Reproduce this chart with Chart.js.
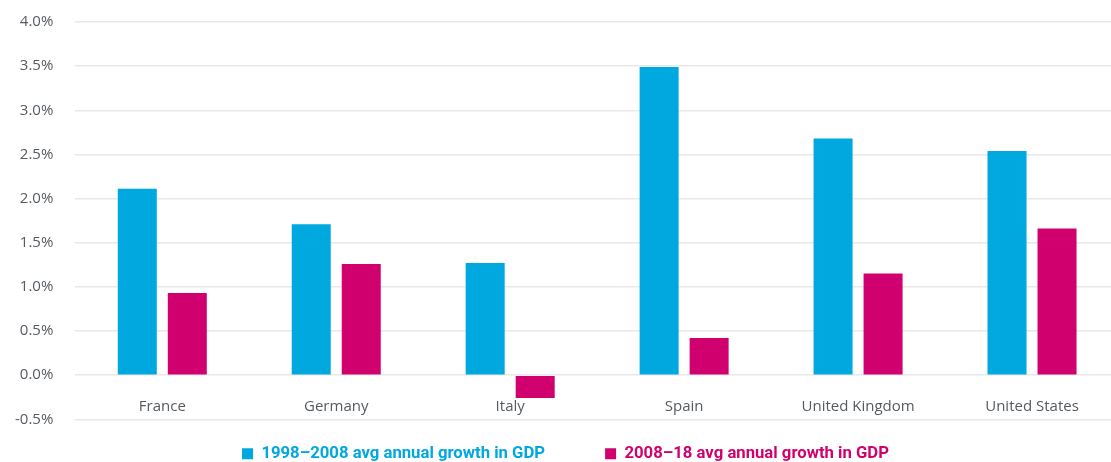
<!DOCTYPE html>
<html>
<head>
<meta charset="utf-8">
<script src="https://cdn.jsdelivr.net/npm/chart.js@4"></script>
<style>
  html, body { margin: 0; padding: 0; background: #fff; }
  #wrap { width: 1111px; height: 462px; }
</style>
</head>
<body>
<div id="wrap"><canvas id="gdpChart"></canvas></div>
<script>
// GDP growth by country, two decades
const countries = ["France", "Germany", "Italy", "Spain", "United Kingdom", "United States"];
const growth9808 = [2.11, 1.71, 1.27, 3.49, 2.68, 2.54];
const growth0818 = [0.93, 1.26, -0.26, 0.42, 1.15, 1.66];
const seriesNames = ["1998\u20132008 avg annual growth in GDP", "2008\u201318 avg annual growth in GDP"];
const yTicks = [-0.5, 0, 0.5, 1, 1.5, 2, 2.5, 3, 3.5, 4];

const cyan = "#00a8e0";
const magenta = "#d1006f";

// plot runs a bit past the right edge of the canvas; legend sits slightly right of centre
const layoutTweak = {
    id: "layoutTweak",
    afterLayout(chart) {
        const extra = 8;
        const x = chart.scales.x;
        x.right += extra;
        x.width += extra;
        x.configure();
        chart.chartArea.right += extra;
        chart.chartArea.width += extra;
        if (chart.legend) {
            chart.legend.left += 10;
            chart.legend.right += 10;
        }
    }
};

const ctx = document.getElementById("gdpChart").getContext("2d");

new Chart(ctx, {
    type: "bar",
    data: {
        labels: countries,
        datasets: [
            { label: seriesNames[0], data: growth9808, backgroundColor: cyan },
            { label: seriesNames[1], data: growth0818, backgroundColor: magenta }
        ]
    },
    plugins: [layoutTweak],
    options: {
        responsive: true,
        maintainAspectRatio: false,
        animation: false,
        layout: { padding: { top: 22, right: 0, left: 0, bottom: -10 } },
        datasets: {
            bar: { categoryPercentage: 0.575, barPercentage: 0.78 }
        },
        plugins: {
            tooltip: { enabled: false },
            legend: {
                position: "bottom",
                labels: {
                    boxWidth: 11,
                    boxHeight: 11,
                    padding: 26,
                    font: { family: "Roboto", size: 16.7, weight: "bold" },
                    // first label gets trailing spaces to widen the gap between items
                    generateLabels: chart => chart.data.datasets.map((ds, i) => ({
                        text: i === 0 ? ds.label + "\u2003\u2003" : ds.label,
                        fillStyle: ds.backgroundColor,
                        strokeStyle: ds.backgroundColor,
                        lineWidth: 0,
                        fontColor: ds.backgroundColor,
                        datasetIndex: i
                    }))
                }
            }
        },
        scales: {
            x: {
                position: { y: 0 },
                grid: { display: false, drawTicks: false },
                border: { display: false },
                ticks: {
                    padding: 23,
                    color: "#555b61",
                    font: { family: "Open Sans", size: 15 }
                }
            },
            y: {
                min: -0.5,
                max: 4,
                afterBuildTicks: axis => { axis.ticks = yTicks.map(v => ({ value: v })); },
                afterFit: axis => {
                    axis.paddingTop = 0;
                    axis.paddingBottom = 0;
                    axis.width -= 7;
                },
                grid: { color: "#e8e8e8", lineWidth: 1.5, drawTicks: false },
                border: { display: false },
                ticks: {
                    padding: 22,
                    color: "#555b61",
                    font: { family: "Open Sans", size: 15 },
                    callback: v => v.toFixed(1) + "%"
                }
            }
        }
    }
});
</script>
</body>
</html>
